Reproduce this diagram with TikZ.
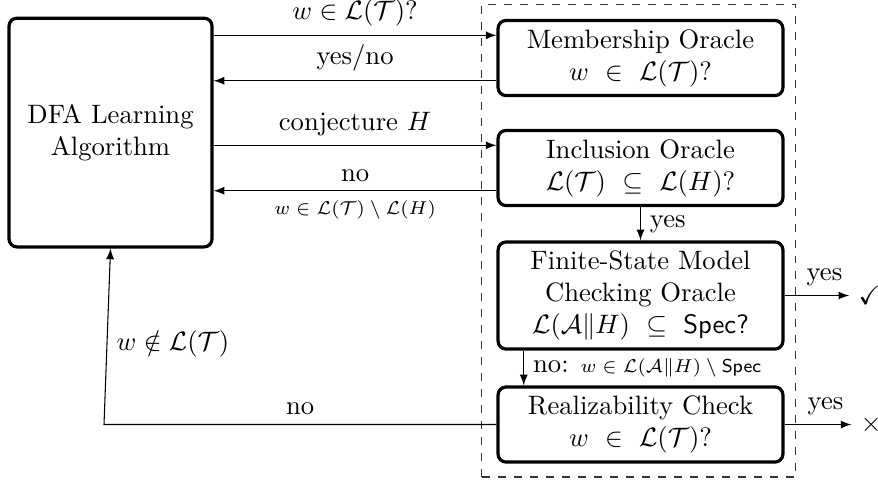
\documentclass[tikz,border=0pt]{standalone}
\usepackage{amsmath,amssymb}
\begin{document}
\begin{tikzpicture}[>=latex,
  oracle/.style={draw,very thick,rounded corners=3pt,align=center,minimum width=3.76cm},
  small/.style={font=\scriptsize}]
\useasboundingbox (0,0) rectangle (11.59,6.35);

% Learner
\node[draw,very thick,rounded corners=3pt,align=center,minimum width=2.68cm,minimum height=3.02cm] (dfa) at (1.459,4.600) {DFA Learning\\Algorithm};

% Teacher (dashed frame)
\draw[dashed,black!80] (6.362,0.053) rectangle (10.507,6.296);

% Oracles
\node[oracle,minimum height=0.99cm] (mem) at (8.455,5.584) {Membership Oracle\\$w \ \in \ \mathcal{L}(\mathcal{T})$?};
\node[oracle,minimum height=0.98cm] (incl) at (8.455,4.132) {Inclusion Oracle\\$\mathcal{L}(\mathcal{T}) \ \subseteq \ \mathcal{L}(H)$?};
\node[oracle,minimum height=1.39cm] (fsmc) at (8.455,2.449) {Finite-State Model\\Checking Oracle\\$\mathcal{L}(\mathcal{A}\|H) \ \subseteq \ \mathsf{Spec}$\textsf{?}};
\node[oracle,minimum height=0.99cm] (real) at (8.455,0.746) {Realizability Check\\$w \ \in \ \mathcal{L}(\mathcal{T})$?};

% Outcomes
\node (ok) at (11.48,2.449) {$\checkmark$};
\node (fail) at (11.50,0.746) {$\times$};

% Membership queries
\coordinate (memin) at ([yshift=0.3cm]mem.west);
\coordinate (memout) at ([yshift=-0.3cm]mem.west);
\draw[->] (dfa.east |- memin) -- node[above] {$w \in \mathcal{L}(\mathcal{T})$?} (memin);
\draw[->] (memout) -- node[above] {yes/no} (dfa.east |- memout);

% Inclusion queries
\coordinate (inclin) at ([yshift=0.3cm]incl.west);
\coordinate (inclout) at ([yshift=-0.3cm]incl.west);
\draw[->] (dfa.east |- inclin) -- node[above] {conjecture $H$} (inclin);
\draw[->] (inclout) -- node[above] {no} node[below,small] {$w \in \mathcal{L}(\mathcal{T}) \setminus \mathcal{L}(H)$} (dfa.east |- inclout);

% Checking chain
\draw[->] (incl.south) -- node[right] {yes} (fsmc.north);
\coordinate (mcout) at ([xshift=0.36cm]fsmc.south west);
\draw[->] (mcout) -- node[right] {no: {\scriptsize $w \in \mathcal{L}(\mathcal{A}\|H) \setminus \mathsf{Spec}$}} (mcout |- real.north);
\draw[->] (fsmc.east) -- node[above,xshift=0.1cm] {yes} (ok);
\draw[->] (real.east) -- node[above,xshift=0.1cm] {yes} (fail);

% Counterexample back to learner
\coordinate (back) at (1.373,0.746);
\draw[->] (real.west) -- node[above] {no} (back) -- node[right,yshift=-0.1cm] {$w \notin \mathcal{L}(\mathcal{T})$} (dfa.south);

\end{tikzpicture}
\end{document}
